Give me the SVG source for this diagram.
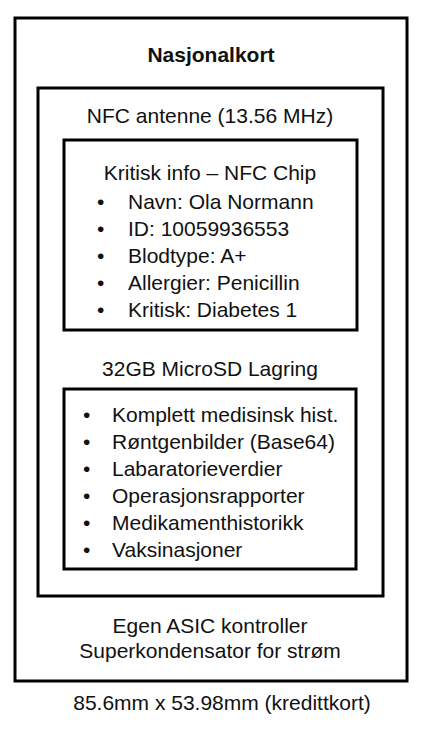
<svg xmlns="http://www.w3.org/2000/svg" width="426" height="742" viewBox="0 0 426 742">
<style>
.box{fill:none;stroke:#000;stroke-width:3}
text{font-family:"Liberation Sans",Arial,sans-serif;font-size:21px;fill:#111}
.c{text-anchor:middle}
.b{font-weight:bold}
</style>
<rect width="426" height="742" fill="#fff"/>
<g id="card">
<rect class="box" x="15" y="18" width="392" height="663"/>
<text class="c b" x="211" y="62">Nasjonalkort</text>
<text class="c" x="210" y="633">Egen ASIC kontroller</text>
<text class="c" x="210" y="658">Superkondensator for strøm</text>
</g>
<g id="antenna">
<rect class="box" x="38" y="88" width="345" height="508"/>
<text class="c" x="210" y="123">NFC antenne (13.56 MHz)</text>
<text class="c" x="210" y="376">32GB MicroSD Lagring</text>
</g>
<g id="nfc-chip">
<rect class="box" x="64" y="140" width="293" height="190"/>
<text class="c" x="210" y="180">Kritisk info – NFC Chip</text>
<text x="97" y="209">•</text><text x="128" y="209">Navn: Ola Normann</text>
<text x="97" y="236">•</text><text x="128" y="236">ID: 10059936553</text>
<text x="97" y="263">•</text><text x="128" y="263">Blodtype: A+</text>
<text x="97" y="290">•</text><text x="128" y="290">Allergier: Penicillin</text>
<text x="97" y="317">•</text><text x="128" y="317">Kritisk: Diabetes 1</text>
</g>
<g id="microsd">
<rect class="box" x="64" y="389" width="292" height="180"/>
<text x="83" y="422">•</text><text x="112" y="422">Komplett medisinsk hist.</text>
<text x="83" y="449">•</text><text x="112" y="449">Røntgenbilder (Base64)</text>
<text x="83" y="476">•</text><text x="112" y="476">Labaratorieverdier</text>
<text x="83" y="503">•</text><text x="112" y="503">Operasjonsrapporter</text>
<text x="83" y="530">•</text><text x="112" y="530">Medikamenthistorikk</text>
<text x="83" y="557">•</text><text x="112" y="557">Vaksinasjoner</text>
</g>
<g id="size-label">
<text class="c" x="222" y="710">85.6mm x 53.98mm (kredittkort)</text>
</g>
</svg>
